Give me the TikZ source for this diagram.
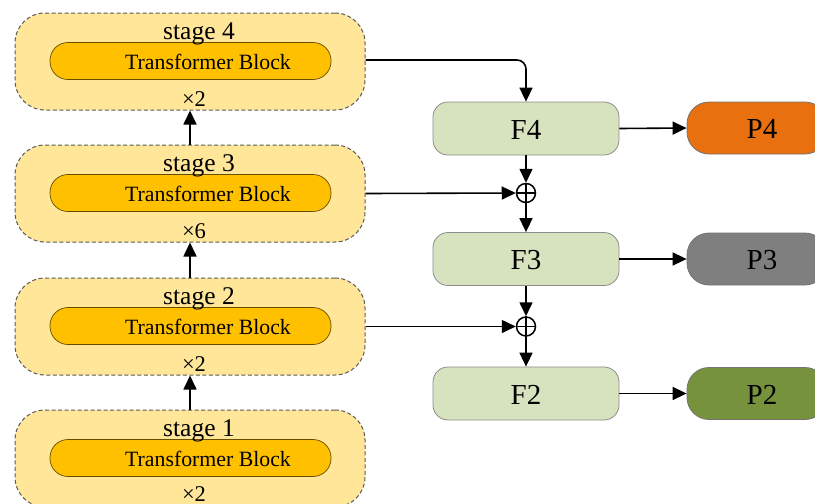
\documentclass[tikz,border=0pt]{standalone}
\usepackage{fontspec}
\setmainfont{Liberation Serif}
\usetikzlibrary{arrows.meta}
\definecolor{stagefill}{HTML}{FFE699}
\definecolor{blockfill}{HTML}{FFC000}
\definecolor{ffill}{HTML}{D7E3BF}
\definecolor{pfour}{HTML}{E8700E}
\definecolor{pthree}{HTML}{7F7F7F}
\definecolor{ptwo}{HTML}{76923C}
\tikzset{
  stagebox/.style={draw=black!65, dashed, dash pattern=on 4pt off 2.5pt, line width=1pt, fill=stagefill, rounded corners=30pt, minimum width=350pt, minimum height=97pt, inner sep=0pt},
  blockbox/.style={draw=black!60!blockfill, line width=0.7pt, fill=blockfill, rounded corners=18pt, minimum width=281pt, minimum height=37pt, inner sep=0pt},
  fbox/.style={draw=black!45, line width=0.8pt, fill=ffill, rounded corners=15pt, minimum width=186pt, minimum height=53pt, inner sep=0pt},
  pbox/.style={draw=black!55, line width=0.8pt, rounded corners=22pt, minimum width=140pt, minimum height=52pt, inner sep=0pt},
  addnode/.style={circle, draw=black, line width=1.5pt, minimum size=19pt, inner sep=0pt},
  conn/.style={line width=1.6pt, -{Triangle[length=14pt,width=13pt]}},
  stagelbl/.style={font=\fontsize{25.5}{27}\selectfont, anchor=base, inner sep=0pt},
  blocklbl/.style={font=\fontsize{21.8}{24}\selectfont, anchor=base, inner sep=0pt},
  repeatlbl/.style={font=\fontsize{22.5}{24}\selectfont, anchor=base, inner sep=0pt},
  flbl/.style={font=\fontsize{29}{32}\selectfont, anchor=base, inner sep=0pt}
}
\begin{document}
\begin{tikzpicture}[x=1pt,y=-1pt]
\useasboundingbox (0,0) rectangle (815,504);
\clip (0,0) rectangle (815,504);
% stages
\node[stagebox] (s4) at (190,61.5) {};
\node[stagebox] (s3) at (190,193.5) {};
\node[stagebox] (s2) at (190,326.5) {};
\node[stagebox] (s1) at (190,458.5) {};
\node[blockbox] (t4) at (190.5,61) {};
\node[blockbox] (t3) at (190.5,193) {};
\node[blockbox] (t2) at (190.5,326) {};
\node[blockbox] (t1) at (190.5,458) {};
\node[blocklbl] (tl4) at (208,69.5) {Transformer Block};
\node[blocklbl] (tl3) at (208,201.5) {Transformer Block};
\node[blocklbl] (tl2) at (208,334.5) {Transformer Block};
\node[blocklbl] (tl1) at (208,466.5) {Transformer Block};
\node[stagelbl] (sl4) at (199,39.5) {stage 4};
\node[stagelbl] (sl3) at (199,171.5) {stage 3};
\node[stagelbl] (sl2) at (199,304.5) {stage 2};
\node[stagelbl] (sl1) at (199,436.5) {stage 1};
\node[repeatlbl] (r4) at (194,106) {×2};
\node[repeatlbl] (r3) at (194,238) {×6};
\node[repeatlbl] (r2) at (194,371) {×2};
\node[repeatlbl] (r1) at (194,501) {×2};
% F boxes
\node[fbox] (F4) at (526,128.5) {};
\node[fbox] (F3) at (526,259) {};
\node[fbox] (F2) at (526,393.5) {};
\node[flbl] (F4l) at (526,139) {F4};
\node[flbl] (F3l) at (526,269.5) {F3};
\node[flbl] (F2l) at (526,404) {F2};
% P boxes
\node[pbox, fill=pfour] (P4) at (757,128) {};
\node[pbox, fill=pthree] (P3) at (757,259) {};
\node[pbox, fill=ptwo] (P2) at (757,393.5) {};
\node[flbl] (P4l) at (762,138.5) {P4};
\node[flbl] (P3l) at (762,269.5) {P3};
\node[flbl] (P2l) at (762,404) {P2};
% add nodes
\node[addnode] (a3) at (526,193) {};
\node[addnode] (a2) at (526,326.5) {};
\draw[line width=1.4pt] (a3.north) -- (a3.south) (a3.west) -- (a3.east);
\draw[line width=1.4pt] (a2.north) -- (a2.south) (a2.west) -- (a2.east);
% connectors
\draw[conn] (s1.north) -- (s2.south);
\draw[conn] (s2.north) -- (s3.south);
\draw[conn] (s3.north) -- (s4.south);
\draw[conn, rounded corners=9pt] (s4.east |- 0,60) -| (F4.north);
\draw[conn] (s3.east) -- (a3.west);
\draw[conn] (s2.east) -- (a2.west);
\draw[conn] (F4.south) -- (a3.north);
\draw[conn] (a3.south) -- (F3.north);
\draw[conn] (F3.south) -- (a2.north);
\draw[conn] (a2.south) -- (F2.north);
\draw[conn] (F4.east) -- (P4.west);
\draw[conn] (F3.east) -- (P3.west);
\draw[conn] (F2.east) -- (P2.west);
\end{tikzpicture}
\end{document}
